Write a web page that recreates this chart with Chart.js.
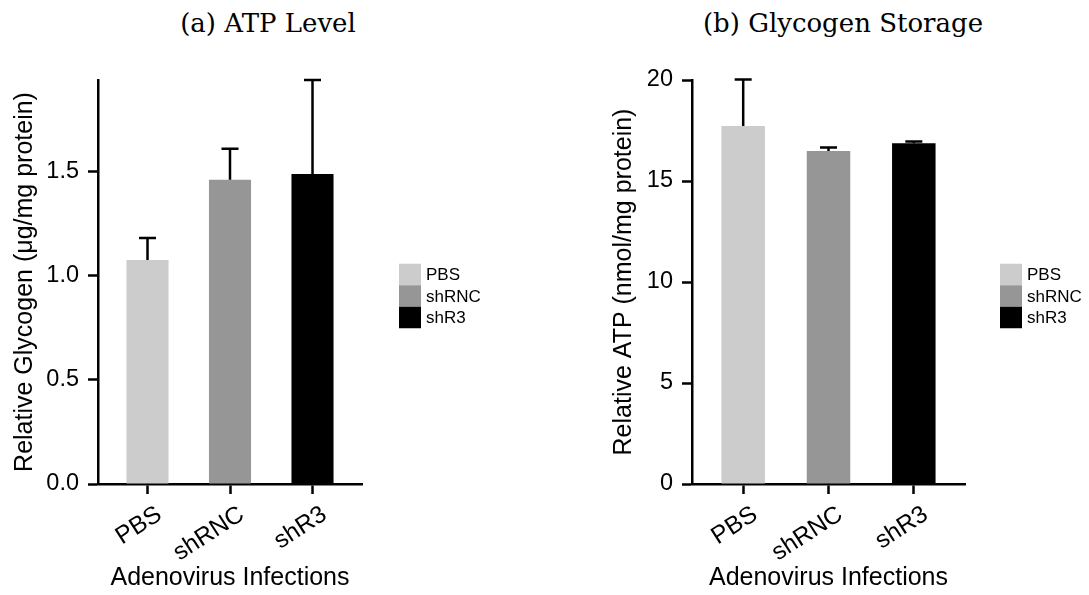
<!DOCTYPE html>
<html>
<head>
<meta charset="utf-8">
<script src="https://cdn.jsdelivr.net/npm/chart.js@4.4.1/dist/chart.umd.min.js"></script>
<style>
  body { margin: 0; background: #fff; width: 1089px; height: 595px; position: relative; overflow: hidden; }
  canvas { position: absolute; top: 0; }
  .panel-title { position: absolute; top: 10px; width: 320px; text-align: center;
    font-family: "DejaVu Serif", serif; font-size: 26px; line-height: 26px; color: #000; }
</style>
</head>
<body>
<div class="panel-title" style="left:108px">(a) ATP Level</div>
<div class="panel-title" style="left:683px">(b) Glycogen Storage</div>
<canvas id="glycogen" width="545" height="595" style="left:0"></canvas>
<canvas id="atp" width="495" height="595" style="left:594px"></canvas>
<script>
const groups = ["PBS", "shRNC", "shR3"];
const groupColors = ["#cccccc", "#969696", "#000000"];

const glycogenMean = [1.077, 1.462, 1.49];
const glycogenErr = [0.106, 0.149, 0.452];
const glycogenTicks = [0, 0.5, 1.0, 1.5];

const atpMean = [17.72, 16.48, 16.87];
const atpErr = [2.3, 0.18, 0.08];
const atpTicks = [0, 5, 10, 15, 20];

const sans = '"Liberation Sans", Arial, Helvetica, sans-serif';

// upward-only SEM bars with a short cap
const errorBars = {
  id: 'errorBars',
  afterDatasetsDraw(chart) {
    const { ctx, scales: { x, y } } = chart;
    const ds = chart.data.datasets[0];
    ctx.save();
    ctx.strokeStyle = '#000';
    ctx.lineWidth = 2.5;
    ds.data.forEach((pt, i) => {
      const px = x.getPixelForValue(pt.x);
      const base = y.getPixelForValue(pt.y);
      const top = y.getPixelForValue(pt.y + ds.errors[i]);
      ctx.beginPath();
      ctx.moveTo(px, base);
      ctx.lineTo(px, top);
      ctx.moveTo(px - 8.5, top);
      ctx.lineTo(px + 8.5, top);
      ctx.stroke();
    });
    ctx.restore();
  }
};

// stacked colour swatches to the right of the plot
const sideLegend = {
  id: 'sideLegend',
  afterDraw(chart, args, opts) {
    const { ctx, chartArea } = chart;
    const boxW = 22, boxH = 21.5;
    const x = chartArea.right + opts.gap;
    let y = (chartArea.top + chartArea.bottom) / 2 + 14 - boxH * groups.length / 2;
    ctx.save();
    ctx.font = '17px ' + sans;
    ctx.textBaseline = 'middle';
    groups.forEach((g, i) => {
      ctx.fillStyle = groupColors[i];
      ctx.fillRect(x, y, boxW, boxH);
      ctx.fillStyle = '#000';
      ctx.fillText(g, x + boxW + 5, y + boxH / 2 + 1);
      y += boxH;
    });
    ctx.restore();
  }
};

const axisGrid = { offset: false, drawOnChartArea: false, drawTicks: true, tickLength: 10, tickWidth: 2.5, tickColor: '#000' };
const axisBorder = { display: true, color: '#000', width: 2.5 };

function drawPanel(id, means, errs, tickValues, yMax, yTitle, digits, plotRight, yTitlePad, legendGap) {
  const canvas = document.getElementById(id);
  new Chart(canvas, {
    type: 'bar',
    data: {
      datasets: [{
        data: means.map((m, i) => ({ x: i, y: m })),
        errors: errs,
        backgroundColor: groupColors,
        categoryPercentage: 1,
        barPercentage: 0.51
      }]
    },
    options: {
      responsive: false,
      animation: false,
      devicePixelRatio: 1,
      layout: { padding: { top: 80, left: 0, bottom: 0, right: canvas.width - plotRight } },
      plugins: {
        legend: { display: false },
        tooltip: { enabled: false },
        sideLegend: { gap: legendGap }
      },
      scales: {
        x: {
          type: 'linear',
          offset: false,
          min: -0.6,
          max: groups.length - 0.4,
          afterBuildTicks: s => { s.ticks = groups.map((g, i) => ({ value: i })); },
          afterFit: s => { s.height = 111; },
          grid: axisGrid,
          border: axisBorder,
          ticks: {
            callback: v => groups[v],
            autoSkip: false,
            minRotation: 33,
            maxRotation: 33,
            padding: 6,
            labelOffset: 12,
            color: '#000',
            font: { family: sans, size: 24.5 }
          },
          title: {
            display: true, text: 'Adenovirus Infections', color: '#000',
            font: { family: sans, size: 25 }, padding: { top: 0, bottom: 2 }
          }
        },
        y: {
          min: 0,
          max: yMax,
          afterBuildTicks: s => { s.ticks = tickValues.map(v => ({ value: v })); },
          afterFit: s => { s.width = 98; },
          grid: axisGrid,
          border: axisBorder,
          ticks: {
            callback: v => v.toFixed(digits),
            padding: 9,
            color: '#000',
            font: { family: sans, size: 23.5 }
          },
          title: {
            display: true, text: yTitle, color: '#000',
            font: { family: sans, size: 25 }, padding: { top: yTitlePad, bottom: 0 }
          }
        }
      }
    },
    plugins: [errorBars, sideLegend]
  });
}

const glycogenTop = Math.max(...glycogenMean.map((m, i) => m + glycogenErr[i]));
drawPanel('glycogen', glycogenMean, glycogenErr, glycogenTicks, glycogenTop,
  'Relative Glycogen (\u03BCg/mg protein)', 1, 362, 10, 37);
drawPanel('atp', atpMean, atpErr, atpTicks, atpTicks[atpTicks.length - 1],
  'Relative ATP (nmol/mg protein)', 0, 371, 15, 35);
</script>
</body>
</html>
